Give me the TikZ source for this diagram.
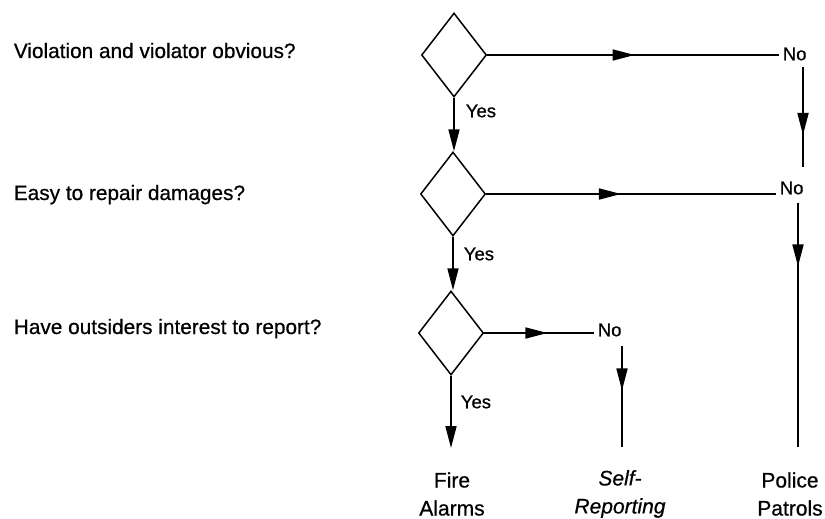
\documentclass[tikz,border=0pt]{standalone}
\usepackage{fontspec}
\setmainfont[FakeBold=0.6]{Liberation Sans}
\usetikzlibrary{arrows.meta,decorations.markings,shapes.geometric}
\begin{document}
\begin{tikzpicture}[x=1pt,y=-1pt,
  line width=1.7pt,
  dec/.style={draw, diamond, minimum width=65pt, minimum height=84pt, inner sep=0pt, line width=1.5pt},
  qtext/.style={anchor=base west, font=\fontsize{20.8}{24}\selectfont, inner sep=0pt},
  lab/.style={font=\fontsize{18.5}{20}\selectfont, inner sep=0pt, anchor=west},
  result/.style={align=center, font=\fontsize{21}{28}\selectfont, inner sep=0pt},
  tipe/.style={-{Triangle[length=22pt,width=11pt]}},
  midarrow/.style={postaction={decorate}, decoration={markings, mark=at position #1 with {\arrow{Triangle[length=22pt,width=11pt]}}}}
]
\path[use as bounding box] (0,0) rectangle (825,519);

\node[qtext] (q1) at (13,58) {Violation and violator obvious?};
\node[qtext] (q2) at (13,200) {Easy to repair damages?};
\node[qtext] (q3) at (13,334) {Have outsiders interest to report?};

\node[dec] (d1) at (454,55) {};
\node[dec] (d2) at (453,194) {};
\node[dec] (d3) at (451,333) {};

\node[lab] (n1) at (782,54) {No};
\node[lab] (n2) at (779,188) {No};
\node[lab] (n3) at (597,330) {No};

\node[lab] (y1) at (465,111) {Yes};
\node[lab] (y2) at (463,254) {Yes};
\node[lab] (y3) at (460,402) {Yes};

\node[result] (o1) at (452,494) {Fire\\Alarms};
\node[result, font=\fontsize{21}{28}\selectfont\itshape] (o2) at (620,494) {Self-\\Reporting};
\node[result] (o3) at (790,494) {Police\\Patrols};

\coordinate (s1) at (803,67);
\coordinate (e1) at (803,167);
\coordinate (s2) at (798,203);
\coordinate (e2) at (798,447);
\coordinate (s3) at (622,346);
\coordinate (e3) at (622,447);
\coordinate (e0) at (451,448);

% No branches
\draw[midarrow=0.5, shorten >=3pt] (d1.east) -- (d1.east -| n1.west);
\draw[midarrow=0.46, shorten >=3pt] (d2.east) -- (d2.east -| n2.west);
\draw[midarrow=0.56, shorten >=3pt] (d3.east) -- (d3.east -| n3.west);

\draw[midarrow=0.68] (s1) -- (e1);
\draw[midarrow=0.26] (s2) -- (e2);
\draw[midarrow=0.44] (s3) -- (e3);

% Yes branches
\draw[tipe] (d1.south) -- (d1.south |- d2.north);
\draw[tipe] (d2.south) -- (d2.south |- d3.north);
\draw[tipe] (d3.south) -- (e0);
\end{tikzpicture}
\end{document}
